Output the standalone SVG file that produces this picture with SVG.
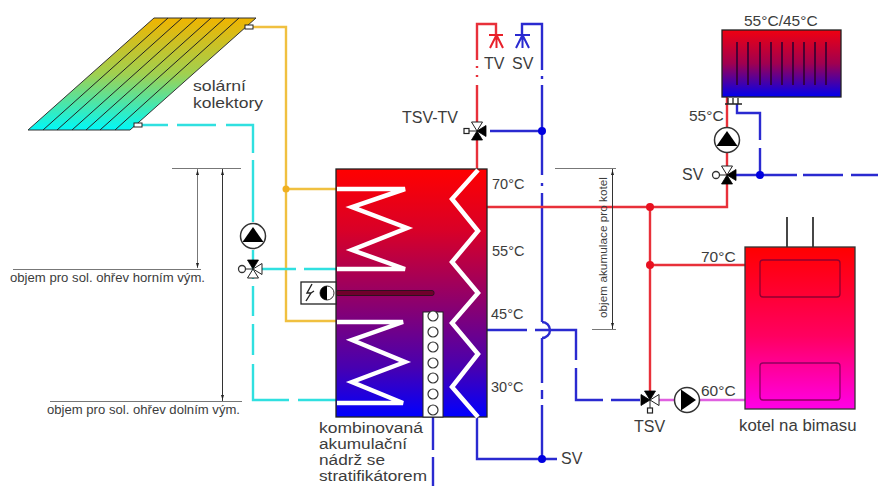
<svg xmlns="http://www.w3.org/2000/svg" width="878" height="486" viewBox="0 0 878 486">
<style>
text{font-family:"Liberation Sans",Arial,sans-serif;fill:#3c3c3c;font-size:14.500px}
.lg{font-size:16px}.big{font-size:16.800px}.tk{font-size:13.800px}.col{font-size:15px}.sm{font-size:12.500px}.xs{font-size:11.800px}.tm{font-size:15.500px}
.p{fill:none;stroke-width:2.400}
.red{stroke:#e8303a}.blue{stroke:#2a2ad0}.cy{stroke:#30e0e0}.ye{stroke:#f0c040}.pk{stroke:#e060e0}
.coil{fill:none;stroke:#fff;stroke-width:4.500;stroke-linejoin:miter}
.dim{fill:none;stroke:#777;stroke-width:1}
.dk{fill:none;stroke:#333;stroke-width:1}
.b{fill:#000;stroke:#000;stroke-width:.8}.w{fill:#fff;stroke:#222;stroke-width:1}
.o{fill:#fff;stroke:#333;stroke-width:1.300}
.pump{fill:#fff;stroke:#333;stroke-width:1.500}
</style>
<defs>
<linearGradient id="gc" x1="0" y1="0" x2="0" y2="1"><stop offset="0" stop-color="#f0b400"/><stop offset=".5" stop-color="#a0d050"/><stop offset="1" stop-color="#00f8f8"/></linearGradient>
<linearGradient id="gt" x1="0" y1="0" x2="0" y2="1"><stop offset="0" stop-color="#ff0000"/><stop offset=".25" stop-color="#d80028"/><stop offset=".55" stop-color="#8a0070"/><stop offset=".8" stop-color="#4800b0"/><stop offset="1" stop-color="#0000ff"/></linearGradient>
<linearGradient id="gr" x1="0" y1="0" x2="0" y2="1"><stop offset="0" stop-color="#f00010"/><stop offset=".5" stop-color="#a00050"/><stop offset="1" stop-color="#0000ee"/></linearGradient>
<linearGradient id="gk" x1="0" y1="0" x2="0" y2="1"><stop offset="0" stop-color="#ff0000"/><stop offset=".55" stop-color="#ff0060"/><stop offset="1" stop-color="#ff00e8"/></linearGradient>
<path id="t" d="M0 0L-5.500 -9H5.500Z"/>
<g id="pu"><circle r="12.500" class="pump"/><path d="M0 -9L10.500 6H-10.500Z" fill="#000"/></g>
</defs>

<g id="connectors">
<path class="p ye" d="M250 27H286V321H337M286 189H337"/>
<circle cx="286" cy="189" r="3.500" fill="#f0b020"/>
<path class="p cy" d="M140 125H168M177 125H216M226 125H253V153M253 160V222M253 250V279M253 286V316M253 324V355M253 364V400H289M298 400H337"/>
<path class="p cy" d="M262 269H296M304 269H337"/>
<path class="p red" d="M477 60V24H496V34M477 66V68M477 75V77M477 85V125M477 138V169"/>
<path class="p blue" d="M522 34V24H542V70M542 76V79M542 85V175M542 183V186M542 193V322M542 338V383M542 390V399M542 405V459M542 131H490"/>
<path class="p red" d="M487 207H727V183M650 207V392M650 265H745M727 175V97"/>
<path class="p blue" d="M487 330H527M535 330H576V360M576 368V400H603M611 400H640"/>
<path class="p blue" d="M542 322A8 8 0 0 1 542 338"/>
<path class="p blue" d="M477 417V459H557M433 417V450M433 457V486"/>
<path class="p blue" d="M737 104V113H760V140M760 148V175M735 175H797M803 175H843M851 175H878"/>
<path class="p pk" d="M658 400H745"/>
<circle cx="542" cy="131" r="4" fill="#0000e0"/><circle cx="542" cy="459" r="4" fill="#0000e0"/><circle cx="760" cy="175" r="4" fill="#0000e0"/>
<circle cx="650" cy="207" r="4" fill="#e81020"/><circle cx="650" cy="265" r="4" fill="#e81020"/>
</g>

<g id="dimensions">
<path class="dim" d="M172 168.500H241M13 269.500H201M50 401.500H242M197.500 169V268M555 168.500H616M592 329.500H616"/>
<path class="dk" d="M222.500 169V401M612.500 169V329"/>
<path d="M197.500 170l-1.500 5h3zM197.500 268l-1.500-5h3zM222.500 170l-1.500 5h3zM222.500 400l-1.500-5h3zM612.500 170l-1.500 5h3zM612.500 328l-1.500-5h3z" fill="#222"/>
<text class="sm" x="10" y="282" textLength="195" lengthAdjust="spacingAndGlyphs">objem pro sol. ohřev horním vým.</text>
<text class="sm" x="47" y="414" textLength="193" lengthAdjust="spacingAndGlyphs">objem pro sol. ohřev dolním vým.</text>
<text class="xs" transform="translate(607,318) rotate(-90)">objem akumulace pro kotel</text>
</g>

<g id="collector">
<path d="M154 18H256L130 130H28Z" fill="url(#gc)" stroke="#333" stroke-width="1"/>
<path d="M43 130L168 18M57 130L182 18M72 130L197 18M86 130L211 18M100 130L225 18M115 130L239 18" fill="none" stroke="#222" stroke-width="1"/>
<rect x="245" y="25" width="8" height="4" fill="#fff" stroke="#222"/>
<rect x="134" y="123" width="8" height="4" fill="#fff" stroke="#222"/>
<text class="col" x="193" y="91" textLength="53" lengthAdjust="spacingAndGlyphs">solární</text><text class="col" x="193" y="108" textLength="70" lengthAdjust="spacingAndGlyphs">kolektory</text>
</g>

<g id="tank">
<rect x="336" y="169" width="151" height="248" fill="url(#gt)" stroke="#222" stroke-width="1.300"/>
<path class="coil" d="M337 189H405L352 207L407 228L352 250L405 269H337"/>
<path class="coil" d="M337 322H403L352 340L405 362L352 382L403 403H337"/>
<path class="coil" d="M478 170L452 199L478 231L452 262L478 293L452 323L478 354L452 387L478 417"/>
<rect x="423" y="312" width="20" height="105" fill="#fff" stroke="#222"/>
<g fill="#fff" stroke="#333" stroke-width="1.200"><circle cx="433" cy="316" r="5"/><circle cx="433" cy="332" r="5"/><circle cx="433" cy="347" r="5"/><circle cx="433" cy="363" r="5"/><circle cx="433" cy="378" r="5"/><circle cx="433" cy="394" r="5"/><circle cx="433" cy="410" r="5"/></g>
<rect x="336" y="290.500" width="98" height="5" rx="2" fill="#70002c" stroke="#301020"/>
<rect x="301" y="282" width="35" height="22" fill="#fff" stroke="#222" stroke-width="1.300"/>
<path d="M312 284L307 293H311L306 301M311 293L314 291" fill="none" stroke="#222" stroke-width="1.400"/>
<circle cx="327" cy="293" r="7" fill="#fff" stroke="#333"/><path d="M327 286A7 7 0 0 0 327 300Z" fill="#000"/>
<text x="492" y="189">70°C</text><text x="492" y="256">55°C</text><text x="491" y="319">45°C</text><text x="491" y="392">30°C</text>
<text class="tk" x="319" y="433" textLength="104" lengthAdjust="spacingAndGlyphs">kombinovaná</text><text class="tk" x="319" y="449" textLength="88" lengthAdjust="spacingAndGlyphs">akumulační</text><text class="tk" x="319" y="465" textLength="66" lengthAdjust="spacingAndGlyphs">nádrž se</text><text class="tk" x="319" y="481" textLength="108" lengthAdjust="spacingAndGlyphs">stratifikátorem</text>
</g>

<g id="tap-tv">
<path d="M489 35H503M496.500 35V48M496.500 35L490 48M496.500 35L503 48" fill="none" stroke="#e8202a" stroke-width="2"/>
<text class="lg" x="484" y="69">TV</text>
</g>
<g id="tap-sv">
<path d="M515 35H530M522.500 35V48M522.500 35L516 48M522.500 35L529 48" fill="none" stroke="#2a2ad0" stroke-width="2"/>
<text class="lg" x="512" y="69">SV</text>
</g>

<g id="valve-tsv-tv" transform="translate(477,131)">
<use href="#t" class="w"/><use href="#t" class="b" transform="rotate(90)"/><use href="#t" class="b" transform="rotate(180)"/>
<path d="M0 0H-8" stroke="#222"/><rect x="-13" y="-2.500" width="5" height="5" fill="#fff" stroke="#222" stroke-width="1.200"/>
<text class="lg" x="-75" y="-8">TSV-TV</text>
</g>

<g id="valve-solar" transform="translate(253,269)">
<use href="#t" class="b"/><use href="#t" class="w" transform="rotate(90)"/><use href="#t" class="w" transform="rotate(180)"/>
<path d="M0 0H-8" stroke="#222"/><circle cx="-11" r="3.500" class="o"/>
</g>
<use id="pump-solar" href="#pu" x="253" y="236"/>

<g id="valve-sv" transform="translate(727,175)">
<use href="#t" class="w"/><use href="#t" class="b" transform="rotate(90)"/><use href="#t" class="b" transform="rotate(180)"/>
<path d="M0 0H-8" stroke="#222"/><circle cx="-11" r="3.500" class="o"/>
<text class="lg" x="-45" y="5">SV</text>
</g>
<g id="pump-radiator"><use href="#pu" x="727" y="140"/><text class="tm" x="689" y="121">55°C</text></g>

<g id="radiator">
<rect x="722" y="30" width="119" height="67" fill="url(#gr)" stroke="#222" stroke-width="1.300"/>
<path d="M737 42V85M748 42V85M760 42V85M771 42V85M782 42V85M793 42V85M804 42V85M815 42V85M826 42V85" stroke="#300030" stroke-width="2" opacity=".8"/>
<path d="M725 104H742M728 98V104M733 98V104M738 98V104" stroke="#222" stroke-width="1.300" fill="none"/>
<text class="tm" x="744" y="26">55°C/45°C</text>
</g>

<g id="boiler">
<path d="M787 217V247M813 217V247" stroke="#333" stroke-width="1.800"/>
<rect x="745" y="247" width="110" height="162" fill="url(#gk)" stroke="#333" stroke-width="1.300"/>
<rect x="760" y="260" width="80" height="37" rx="3" fill="none" stroke="#900030" stroke-width="1.300"/>
<rect x="760" y="363" width="80" height="37" rx="3" fill="none" stroke="#900060" stroke-width="1.300"/>
<text class="tm" x="701" y="262">70°C</text><text class="tm" x="701" y="396">60°C</text>
<text class="big" x="739" y="431">kotel na bimasu</text>
</g>

<g id="valve-tsv" transform="translate(650,400)">
<use href="#t" class="b"/><use href="#t" class="w" transform="rotate(90)"/><use href="#t" class="b" transform="rotate(270)"/>
<path d="M0 0V8" stroke="#222"/><rect x="-2.500" y="8" width="5" height="5" fill="#fff" stroke="#222" stroke-width="1.200"/>
<text class="lg" x="-16" y="32">TSV</text>
</g>
<use id="pump-boiler" href="#pu" transform="translate(687,400) rotate(90)"/>
<text id="label-sv" class="lg" x="561" y="464">SV</text>
</svg>
